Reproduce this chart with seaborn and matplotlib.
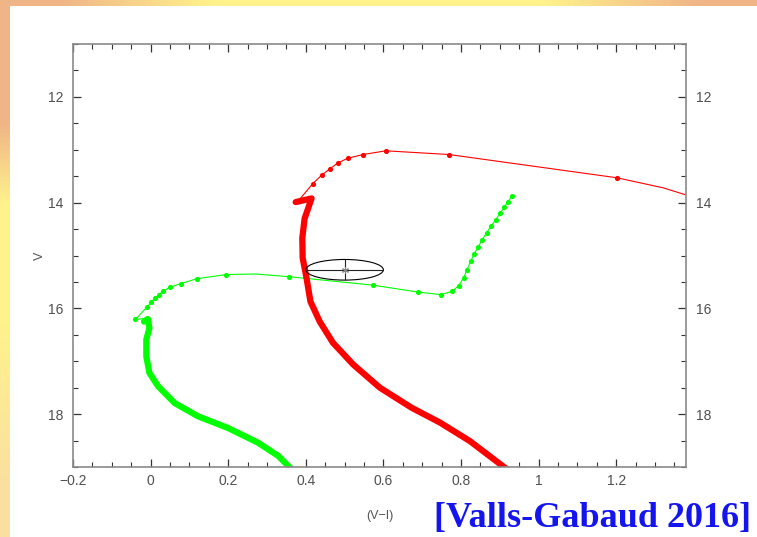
import numpy as np
import pandas as pd
import matplotlib
matplotlib.use("Agg")
import matplotlib.pyplot as plt
import seaborn as sns
from matplotlib.patches import Ellipse, Rectangle
from matplotlib.ticker import FixedLocator, MultipleLocator

# --- isochrone data: colour (V-I) and magnitude V ---
# red model: thick main-sequence part
red_ms_vi = [0.918, 0.823, 0.746, 0.673, 0.591, 0.522, 0.470, 0.436, 0.412,
             0.402, 0.392, 0.391, 0.397, 0.415, 0.374]
red_ms_v = [19.04, 18.51, 18.16, 17.88, 17.50, 17.06, 16.65, 16.25, 15.87,
            15.43, 15.05, 14.67, 14.30, 13.92, 13.99]
# red model: thin evolved branch (line vertices) and its sampled points
red_br_vi = [0.385, 0.418, 0.441, 0.462, 0.483, 0.508, 0.548, 0.606, 0.769,
             1.202, 1.321, 1.40]
red_br_v = [13.93, 13.64, 13.48, 13.36, 13.25, 13.16, 13.09, 13.02, 13.09,
            13.53, 13.72, 13.90]
red_dot_vi = [0.418, 0.441, 0.462, 0.483, 0.508, 0.548, 0.606, 0.769, 1.202]
red_dot_v = [13.64, 13.48, 13.36, 13.25, 13.16, 13.09, 13.02, 13.09, 13.53]

# green model: thick main-sequence part
green_ms_vi = [0.363, 0.329, 0.277, 0.199, 0.122, 0.062, 0.019, -0.003,
               -0.011, -0.011, -0.003, -0.007, -0.017]
green_ms_v = [19.04, 18.79, 18.54, 18.26, 18.04, 17.79, 17.47, 17.22,
              16.91, 16.59, 16.37, 16.20, 16.25]
# green model: thin evolved branch (line vertices) and its sampled points
green_br_vi = [-0.014, -0.039, -0.010, 0.002, 0.011, 0.021, 0.033, 0.050,
               0.078, 0.119, 0.195, 0.270, 0.356, 0.572, 0.688, 0.748,
               0.777, 0.794, 0.807, 0.815, 0.825, 0.834, 0.845, 0.855,
               0.866, 0.877, 0.889, 0.901, 0.911, 0.921, 0.932]
green_br_v = [16.19, 16.21, 15.98, 15.88, 15.81, 15.74, 15.67, 15.60,
              15.53, 15.44, 15.36, 15.35, 15.40, 15.56, 15.69, 15.74,
              15.68, 15.57, 15.42, 15.28, 15.11, 14.97, 14.83, 14.70,
              14.57, 14.45, 14.33, 14.20, 14.09, 13.99, 13.87]
green_dot_vi = [-0.039, -0.010, 0.002, 0.011, 0.021, 0.033, 0.050, 0.078,
                0.119, 0.195, 0.356, 0.572, 0.688, 0.748, 0.777, 0.794,
                0.807, 0.815, 0.825, 0.834, 0.845, 0.855, 0.866, 0.877,
                0.889, 0.901, 0.911, 0.921, 0.932]
green_dot_v = [16.21, 15.98, 15.88, 15.81, 15.74, 15.67, 15.60, 15.53,
               15.44, 15.36, 15.40, 15.56, 15.69, 15.74, 15.68, 15.57,
               15.42, 15.28, 15.11, 14.97, 14.83, 14.70, 14.57, 14.45,
               14.33, 14.20, 14.09, 13.99, 13.87]

# observed star with its uncertainties
star_vi, star_v = 0.50, 15.27
star_err_vi, star_err_v = 0.10, 0.195

xtick_vals = [-0.2, 0.0, 0.2, 0.4, 0.6, 0.8, 1.0, 1.2]
xtick_labels = ["\u22120.2", "0", "0.2", "0.4", "0.6", "0.8", "1", "1.2"]
ytick_vals = [12, 14, 16, 18]
ytick_labels = ["12", "14", "16", "18"]

sns.set_theme(style="ticks")
plt.rcParams["font.family"] = ["Liberation Sans", "DejaVu Sans"]

W, H = 757, 537
fig = plt.figure(figsize=(W / 100, H / 100), dpi=100)

# slide-like warm background with a white panel
bg = fig.add_axes([0, 0, 1, 1], zorder=-10)
yy, xx = np.mgrid[0:1:H * 1j, 0:1:W * 1j]
orange = np.array([0.94, 0.71, 0.53])
yellow = np.array([1.00, 0.95, 0.55])
pale = np.array([0.98, 0.88, 0.63])
base = np.where((yy > 0.6)[..., None],
                yellow + (pale - yellow) * np.clip((yy - 0.6) / 0.3, 0, 1)[..., None],
                yellow)
t_top = np.clip((np.abs(xx - 0.5) - 0.22) / 0.2, 0, 1)
t_left = np.clip((0.38 - yy) / 0.15, 0, 1)
t = np.where(yy < 0.02, t_top, t_left)
img = base * (1 - t[..., None]) + orange * t[..., None]
bg.imshow(img, extent=[0, 1, 0, 1], aspect="auto", origin="upper")
bg.add_patch(Rectangle((10 / W, 0), 1, 1 - 6 / H, color="white", lw=0))
bg.set_xlim(0, 1)
bg.set_ylim(0, 1)
bg.axis("off")

ax = fig.add_axes([73 / W, 1 - 467 / H, (686 - 73) / W, (467 - 44) / H])
ax.set_facecolor("white")

# thin evolved branches
sns.lineplot(x=red_br_vi, y=red_br_v, sort=False, estimator=None,
             color="#ff0000", lw=0.8, ax=ax)
sns.lineplot(x=green_br_vi, y=green_br_v, sort=False, estimator=None,
             color="#00ff00", lw=0.8, ax=ax)
# thick main sequences
sns.lineplot(x=red_ms_vi, y=red_ms_v, sort=False, estimator=None,
             color="#ff0000", lw=4.5, ax=ax, solid_capstyle="round",
             solid_joinstyle="round")
sns.lineplot(x=green_ms_vi, y=green_ms_v, sort=False, estimator=None,
             color="#00ff00", lw=4.5, ax=ax, solid_capstyle="round",
             solid_joinstyle="round")
# sampled points
sns.scatterplot(x=red_dot_vi, y=red_dot_v, color="#ff0000", s=14,
                linewidth=0, ax=ax, zorder=3)
sns.scatterplot(x=green_dot_vi, y=green_dot_v, color="#00ff00", s=14,
                linewidth=0, ax=ax, zorder=3)

# observed star: error ellipse with cross
ax.add_patch(Ellipse((star_vi, star_v), 2 * star_err_vi, 2 * star_err_v,
                     fill=False, edgecolor="black", lw=0.8, zorder=4))
ax.errorbar(star_vi, star_v, xerr=star_err_vi, yerr=star_err_v, fmt="none",
            ecolor="#222222", elinewidth=0.8, capsize=0, zorder=4)
ax.plot(star_vi, star_v, marker=(6, 2, 0), ms=5, color="#888888",
        mew=0.8, zorder=5)

ax.set_xlim(-0.2, 1.38)
ax.set_ylim(19, 11)
ax.xaxis.set_major_locator(FixedLocator(xtick_vals))
ax.set_xticklabels(xtick_labels)
ax.xaxis.set_minor_locator(MultipleLocator(0.05))
ax.yaxis.set_major_locator(FixedLocator(ytick_vals))
ax.set_yticklabels(ytick_labels)
ax.yaxis.set_minor_locator(MultipleLocator(0.5))

ax.tick_params(which="both", direction="in", top=True, right=True,
               labelright=True, labeltop=False, color="#333333",
               labelcolor="#505050", labelsize=10)
ax.tick_params(which="major", length=6, width=0.9)
ax.tick_params(which="minor", length=3.5, width=0.8)
ax.tick_params(axis="x", pad=5)
ax.tick_params(axis="y", pad=7)
for sp in ax.spines.values():
    sp.set_color("#8a8a8a")
    sp.set_linewidth(1.2)

ax.set_xlabel("(V\u2212I)", fontsize=9, color="#555555", labelpad=16)
ax.set_ylabel("V", fontsize=9, color="#555555", labelpad=1)

fig.text(434 / W, 1 - 527 / H, "[Valls-Gabaud 2016]", color="#1414f0",
         fontsize=26, fontweight="bold",
         family=["Liberation Serif", "DejaVu Serif"], ha="left", va="baseline")

fig.savefig("out.png", dpi=100)
